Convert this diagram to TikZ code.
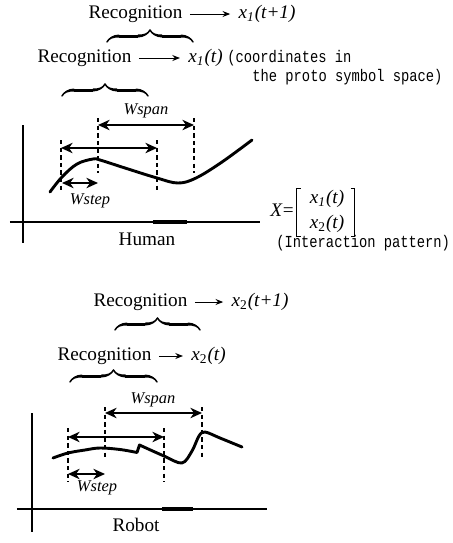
\documentclass[tikz,border=0pt]{standalone}
\usepackage{fontspec}
\setmainfont{Liberation Serif}
\newfontfamily\monof{Liberation Mono}
\usetikzlibrary{arrows.meta,decorations.pathreplacing,calligraphy}
\tikzset{
 txt/.style={inner sep=0pt, text height=6.6pt, text depth=2pt, font=\fontsize{9.6}{11}\selectfont},
 lbl/.style={inner sep=0pt, font=\fontsize{8.2}{10}\selectfont\itshape},
 mono/.style={inner sep=0pt, anchor=west, font=\fontsize{8.4}{10}\selectfont\monof},
 recarrow/.style={-{Stealth[length=3.8pt,width=3pt]}, line width=0.45pt, shorten <=3.5pt, shorten >=4pt},
 dimarrow/.style={{Stealth[length=5.8pt,width=5.2pt,inset=1.8pt]}-{Stealth[length=5.8pt,width=5.2pt,inset=1.8pt]}, line width=0.85pt},
 guide/.style={line width=0.55pt, dash pattern=on 2.2pt off 1.6pt},
 curvestyle/.style={line width=1.45pt, line cap=round, line join=round},
 axisstyle/.style={line width=1pt},
 thickseg/.style={line width=2.2pt},
 bracestyle/.style={decorate, decoration={calligraphic brace, amplitude=6pt}, line width=1.5pt},
 bracket/.style={line width=0.5pt},
}
\newcommand{\mono}[1]{\scalebox{0.82}[1]{#1}}
\begin{document}
\begin{tikzpicture}[x=0.5pt, y=-0.5pt]
\useasboundingbox (0,0) rectangle (452,543);

% ---------------- Human part ----------------
\node[txt] (rec1) at (135.5,14) {Recognition};
\node[txt] (x1p) at (267,14) {\textit{x}\textsubscript{\textit{1}}\textit{(t+1)}};
\draw[recarrow] (rec1.east) -- (x1p.west);
\coordinate (b1l) at (107,42); \coordinate (b1r) at (193,42);
\draw[bracestyle] (b1l) -- (b1r);

\node[txt] (rec2) at (84.5,58) {Recognition};
\node[txt] (x1t) at (205.5,58) {\textit{x}\textsubscript{\textit{1}}\textit{(t)}};
\draw[recarrow] (rec2.east) -- (x1t.west);
\node[mono] (coord1) at (227,58) {\mono{(coordinates in}};
\node[mono] (coord2) at (252,77) {\mono{the proto symbol space)}};
\coordinate (b2l) at (62,96); \coordinate (b2r) at (148,96);
\draw[bracestyle] (b2l) -- (b2r);

% axes
\coordinate (hy1) at (23,125); \coordinate (hy2) at (23,243);
\coordinate (hx1) at (10,222); \coordinate (hx2) at (260,222);
\draw[axisstyle] (hy1) -- (hy2);
\draw[axisstyle] (hx1) -- (hx2);
\draw[thickseg] (153,222) -- (187,222);
\node[txt] (human) at (147,241) {Human};

% curve
\draw[curvestyle] plot[smooth, tension=0.6] coordinates {(50,192) (62,177) (77,164) (93,159) (100,160) (125,168) (157,178) (178,183) (196,178) (222,162) (252,140)};

% guides
\coordinate (ha) at (61,140); \coordinate (ha2) at (61,193);
\coordinate (hb) at (98,118); \coordinate (hb2) at (98,173);
\coordinate (hc) at (157,140); \coordinate (hc2) at (157,193);
\coordinate (hd) at (194,118); \coordinate (hd2) at (194,173);
\draw[guide] (ha) -- (ha2);
\draw[guide] (hb) -- (hb2);
\draw[guide] (hc) -- (hc2);
\draw[guide] (hd) -- (hd2);

\coordinate (hspanl) at (98,125); \coordinate (hspanr) at (194,125);
\draw[dimarrow] (hspanl) -- (hspanr);
\node[lbl] (hwspan) at (146,111) {Wspan};
\coordinate (hmidl) at (61,148); \coordinate (hmidr) at (157,148);
\draw[dimarrow] (hmidl) -- (hmidr);
\coordinate (hstepl) at (62,183); \coordinate (hstepr) at (98,183);
\draw[dimarrow] (hstepl) -- (hstepr);
\node[lbl] (hwstep) at (90,201) {Wstep};

% interaction pattern
\node[txt] (Xeq) at (282,212) {\textit{X}=};
\node[txt] (m1) at (327,199) {\textit{x}\textsubscript{\textit{1}}\textit{(t)}};
\node[txt] (m2) at (327,224) {\textit{x}\textsubscript{2}\textit{(t)}};
\draw[bracket] (301,188) -- (297,188) -- (297,236) -- (301,236);
\draw[bracket] (351,188) -- (355,188) -- (355,236) -- (351,236);
\node[mono] (inter) at (276,243) {\mono{(Interaction pattern)}};

% ---------------- Robot part ----------------
\node[txt] (rec3) at (140.5,302) {Recognition};
\node[txt] (x2p) at (260,302) {\textit{x}\textsubscript{2}\textit{(t+1)}};
\draw[recarrow] (rec3.east) -- (x2p.west);
\coordinate (b3l) at (115,330); \coordinate (b3r) at (200,330);
\draw[bracestyle] (b3l) -- (b3r);

\node[txt] (rec4) at (104.5,356) {Recognition};
\node[txt] (x2t) at (208.5,356) {\textit{x}\textsubscript{2}\textit{(t)}};
\draw[recarrow] (rec4.east) -- (x2t.west);
\coordinate (b4l) at (70,382); \coordinate (b4r) at (157,382);
\draw[bracestyle] (b4l) -- (b4r);

% axes
\coordinate (ry1) at (32,413); \coordinate (ry2) at (32,532);
\coordinate (rx1) at (17,509); \coordinate (rx2) at (267,509);
\draw[axisstyle] (ry1) -- (ry2);
\draw[axisstyle] (rx1) -- (rx2);
\draw[thickseg] (162,509) -- (193,509);
\node[txt] (robot) at (136,527) {Robot};

% curve
\draw[curvestyle] plot[smooth, tension=0.6] coordinates {(53,458) (68,453) (85,450) (100,448) (120,449.5) (137,452.5)}
  -- plot[smooth, tension=0.55] coordinates {(139.5,445) (164,456) (182,463) (192,451) (199,436) (205,432) (220,438) (242,447)};

% guides
\coordinate (ra) at (68,428); \coordinate (ra2) at (68,482);
\coordinate (rb) at (105,407); \coordinate (rb2) at (105,460);
\coordinate (rc) at (164,428); \coordinate (rc2) at (164,482);
\coordinate (rd) at (202,407); \coordinate (rd2) at (202,460);
\draw[guide] (ra) -- (ra2);
\draw[guide] (rb) -- (rb2);
\draw[guide] (rc) -- (rc2);
\draw[guide] (rd) -- (rd2);

\coordinate (rspanl) at (105,413); \coordinate (rspanr) at (202,413);
\draw[dimarrow] (rspanl) -- (rspanr);
\node[lbl] (rwspan) at (153,400) {Wspan};
\coordinate (rmidl) at (68,437); \coordinate (rmidr) at (164,437);
\draw[dimarrow] (rmidl) -- (rmidr);
\coordinate (rstepl) at (68,474); \coordinate (rstepr) at (105,474);
\draw[dimarrow] (rstepl) -- (rstepr);
\node[lbl] (rwstep) at (97,488) {Wstep};
\end{tikzpicture}
\end{document}
